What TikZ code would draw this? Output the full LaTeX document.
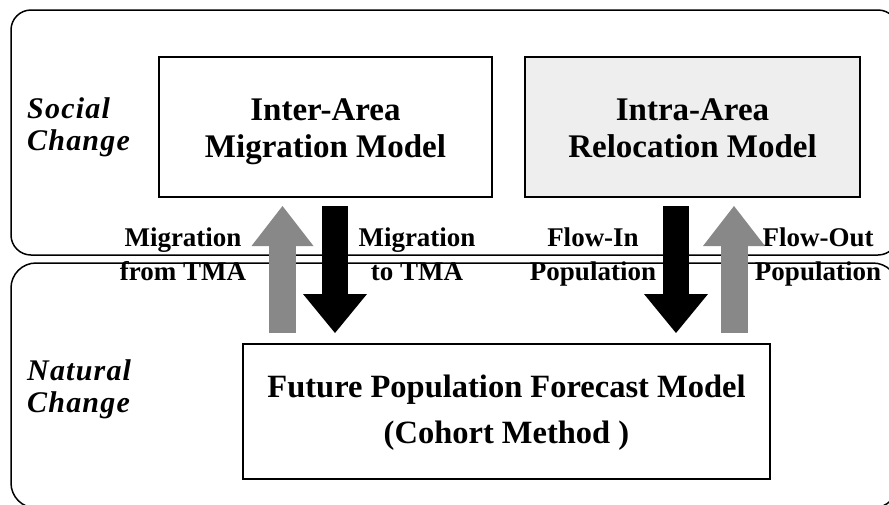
\documentclass[tikz,border=0pt]{standalone}
\usepackage{fontspec}
\setmainfont{Liberation Serif}
\newfontfamily\sidefont[LetterSpace=4]{Liberation Serif}
\usetikzlibrary{arrows.meta}
\definecolor{arrowgrey}{RGB}{136,136,136}
\definecolor{boxgrey}{RGB}{238,238,238}
\tikzset{
	region/.style={draw, line width=1.5pt, inner sep=0pt, minimum width=887pt, minimum height=245pt},
	modelbox/.style={draw, line width=2pt, inner sep=0pt},
	boxtext/.style={inner sep=0pt, align=center, font=\fontsize{33}{37}\selectfont\bfseries},
	flowlabel/.style={inner sep=0pt, align=center, font=\fontsize{27}{34}\selectfont\bfseries},
	sidelabel/.style={inner sep=0pt, anchor=west, align=left, font=\sidefont\fontsize{30}{32}\selectfont\bfseries\itshape},
	outflow/.style={line width=27pt, arrowgrey, -{Triangle[width=62pt,length=40pt,line width=0pt]}, shorten <=10pt, shorten >=8pt},
	inflow/.style={line width=26pt, black, -{Triangle[width=64pt,length=39pt,line width=0pt]}, shorten <=8pt, shorten >=10pt},
}
\begin{document}
\begin{tikzpicture}[x=1pt, y=-1pt]
		\useasboundingbox (0,0) rectangle (889,504);
		\clip (0,0) rectangle (889,504);

		\node[region, rounded corners=20pt] (social) at (454.5,132.5) {};
		\node[region, rounded corners=25pt] (natural) at (454.5,385.5) {};

		\node[modelbox, minimum width=333pt, minimum height=140pt] (inter) at (325.5,127) {};
		\node[modelbox, fill=boxgrey, minimum width=335pt, minimum height=140pt] (intra) at (692.5,127) {};
		\node[modelbox, minimum width=527pt, minimum height=135pt] (future) at (506.5,411.5) {};

		\node[boxtext] (intertxt) at ([yshift=-5pt]inter.center) {\strut Inter-Area\\Migration Model\strut};
		\node[boxtext] (intratxt) at ([yshift=-5pt]intra.center) {\strut Intra-Area\\Relocation Model\strut};
		\node[boxtext, font=\fontsize{32.5}{46}\selectfont\bfseries] (futuretxt) at (future.center) {\strut Future Population Forecast Model\\(Cohort Method )\strut};

		\node[sidelabel] (socialtxt) at (27,127.6) {\strut Social\\Change\strut};
		\node[sidelabel] (naturaltxt) at (27,389.6) {\strut Natural\\Change\strut};

		\node[flowlabel] (fromtma) at (183,257) {\strut Migration\\from TMA\strut};
		\node[flowlabel] (totma) at (417,257) {\strut Migration\\to TMA\strut};
		\node[flowlabel] (flowin) at (593,257) {\strut Flow-In\\Population\strut};
		\node[flowlabel] (flowout) at (818,257) {\strut Flow-Out\\Population\strut};

		\coordinate (fromx) at (282.5,0);
		\coordinate (tox) at (335,0);
		\coordinate (inx) at (676,0);
		\coordinate (outx) at (734,0);

		\draw[outflow] (future.north -| fromx) -- (inter.south -| fromx);
		\draw[inflow] (inter.south -| tox) -- (future.north -| tox);
		\draw[inflow] (intra.south -| inx) -- (future.north -| inx);
		\draw[outflow] (future.north -| outx) -- (intra.south -| outx);
	\end{tikzpicture}
\end{document}
